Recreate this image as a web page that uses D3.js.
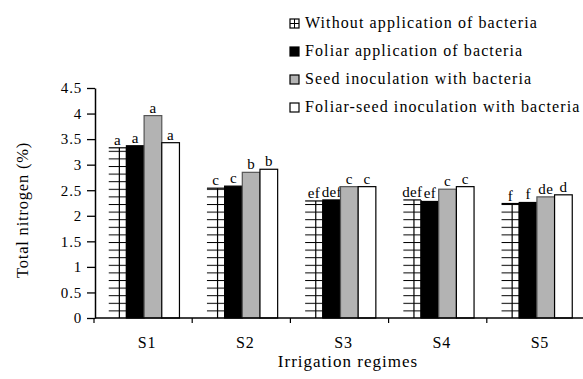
<!DOCTYPE html>
<html>
<head>
<meta charset="utf-8">
<script src="https://cdn.jsdelivr.net/npm/d3@7"></script>
<style>
  body { margin: 0; background: #fff; }
  svg text { font-family: "Liberation Serif", "Times New Roman", serif !important; fill: #000; letter-spacing: 0.8px; }
</style>
</head>
<body>
<svg id="chart" width="583" height="379"></svg>
<script>
// Data
var regimes = ["S1", "S2", "S3", "S4", "S5"];
var treatments = [
    "Without application of bacteria",
    "Foliar application of bacteria",
    "Seed inoculation with bacteria",
    "Foliar-seed inoculation with bacteria"
];
var withoutVals = [3.33, 2.54, 2.29, 2.31, 2.24];
var foliarVals = [3.37, 2.58, 2.31, 2.28, 2.26];
var seedVals = [3.96, 2.85, 2.57, 2.52, 2.37];
var foliarSeedVals = [3.43, 2.91, 2.57, 2.57, 2.41];
var withoutLetters = ["a", "c", "ef", "def", "f"];
var foliarLetters = ["a", "c", "def", "ef", "f"];
var seedLetters = ["a", "b", "c", "c", "de"];
var foliarSeedLetters = ["a", "b", "c", "c", "d"];
var yTicks = [0, 0.5, 1, 1.5, 2, 2.5, 3, 3.5, 4, 4.5];

var series = [withoutVals, foliarVals, seedVals, foliarSeedVals];
var letters = [withoutLetters, foliarLetters, seedLetters, foliarSeedLetters];

var svg = d3.select("#chart");

// Scales
var x0 = d3.scaleBand()
    .domain(regimes)
    .range([95, 586])
    .paddingInner(0)
    .paddingOuter(0);

var x1 = d3.scaleBand()
    .domain(d3.range(treatments.length))
    .range([0, x0.bandwidth() * 0.72]);

var groupOffset = (x0.bandwidth() - x1.range()[1]) / 2;

var y = d3.scaleLinear()
    .domain([0, 4.5])
    .range([318, 88]);

// Patterns and styles
var defs = svg.append("defs");
var hatch = defs.append("pattern")
    .attr("id", "hatch")
    .attr("patternUnits", "userSpaceOnUse")
    .attr("width", 10)
    .attr("height", 7.6)
    .attr("y", y(0));
hatch.append("rect").attr("width", 10).attr("height", 7.6).attr("fill", "#fff");
hatch.append("line")
    .attr("x1", 0).attr("x2", 10)
    .attr("y1", 0.5).attr("y2", 0.5)
    .attr("stroke", "#000").attr("stroke-width", 1);

var fills = ["url(#hatch)", "#000", "#b3b3b3", "#fff"];
var strokes = ["none", "#000", "#555", "#000"];

// Bars
var rows = [];
regimes.forEach(function (r, i) {
    series.forEach(function (s, j) {
        rows.push({ regime: r, t: j, value: s[i], letter: letters[j][i] });
    });
});

var bars = svg.append("g")
    .selectAll("g")
    .data(rows)
    .enter()
    .append("g")
    .attr("transform", function (d) {
        return "translate(" + (x0(d.regime) + groupOffset + x1(d.t)) + ",0)";
    });

bars.append("rect")
    .attr("x", 0)
    .attr("y", function (d) { return y(d.value); })
    .attr("width", x1.bandwidth())
    .attr("height", function (d) { return y(0) - y(d.value); })
    .attr("fill", function (d) { return fills[d.t]; })
    .attr("stroke", function (d) { return strokes[d.t]; })
    .attr("stroke-width", 1.2);

// vertical lines of the hatched bars
bars.filter(function (d) { return d.t === 0; })
    .each(function (d) {
        var g = d3.select(this);
        [0.6, 1].forEach(function (f) {
            g.append("line")
                .attr("x1", x1.bandwidth() * f).attr("x2", x1.bandwidth() * f)
                .attr("y1", y(d.value)).attr("y2", y(0))
                .attr("stroke", "#000").attr("stroke-width", 1.2);
        });
        g.append("line")
            .attr("x1", 0).attr("x2", x1.bandwidth())
            .attr("y1", y(d.value)).attr("y2", y(d.value))
            .attr("stroke", "#000").attr("stroke-width", 1.2);
    });

// letters above bars
bars.append("text")
    .attr("x", x1.bandwidth() / 2)
    .attr("y", function (d) { return y(d.value) - 3; })
    .attr("text-anchor", "middle")
    .style("font-size", "15px")
    .style("letter-spacing", "0.3px")
    .text(function (d) { return d.letter; });

// Y axis
var yAxis = svg.append("g")
    .attr("transform", "translate(95,0)")
    .call(d3.axisLeft(y).tickValues(yTicks).tickSize(8).tickSizeOuter(0)
        .tickFormat(function (d) { return d; }));
yAxis.select(".domain").attr("stroke-width", 1.5);
yAxis.selectAll(".tick line").attr("stroke-width", 1.3);
yAxis.selectAll("text")
    .attr("x", -13)
    .style("font-size", "15px");

// X axis
var xAxisLine = svg.append("g");
xAxisLine.append("line")
    .attr("x1", 95).attr("x2", 583)
    .attr("y1", y(0)).attr("y2", y(0))
    .attr("stroke", "#000").attr("stroke-width", 1.5);
xAxisLine.selectAll(".xt")
    .data(regimes)
    .enter()
    .append("line")
    .attr("x1", function (d) { return x0(d) - 1; })
    .attr("x2", function (d) { return x0(d) - 1; })
    .attr("y1", y(0)).attr("y2", y(0) + 5)
    .attr("stroke", "#000").attr("stroke-width", 1.2);
xAxisLine.selectAll(".xl")
    .data(regimes)
    .enter()
    .append("text")
    .attr("x", function (d) { return x0(d) + x0.bandwidth() / 2 + 3; })
    .attr("y", 348)
    .attr("text-anchor", "middle")
    .style("font-size", "16px")
    .text(function (d) { return d; });

// Axis titles
svg.append("text")
    .attr("transform", "translate(28,210) rotate(-90)")
    .attr("text-anchor", "middle")
    .style("font-size", "16.5px")
    .text("Total nitrogen (%)");

svg.append("text")
    .attr("x", 348)
    .attr("y", 367)
    .attr("text-anchor", "middle")
    .style("font-size", "17px")
    .style("letter-spacing", "1px")
    .text("Irrigation regimes");

// Legend
var legend = svg.append("g")
    .selectAll("g")
    .data(treatments)
    .enter()
    .append("g")
    .attr("transform", function (d, i) { return "translate(290," + (19 + i * 28) + ")"; });

legend.append("rect")
    .attr("width", 9)
    .attr("height", 9)
    .attr("fill", function (d, i) { return i === 0 ? "#fff" : fills[i]; })
    .attr("stroke", "#000")
    .attr("stroke-width", 1.2);

legend.filter(function (d, i) { return i === 0; })
    .each(function () {
        var g = d3.select(this);
        g.append("line").attr("x1", 0).attr("x2", 9).attr("y1", 4.5).attr("y2", 4.5)
            .attr("stroke", "#000");
        g.append("line").attr("x1", 4.5).attr("x2", 4.5).attr("y1", 0).attr("y2", 9)
            .attr("stroke", "#000");
    });

legend.append("text")
    .attr("x", 15)
    .attr("y", 9)
    .style("font-size", "16px")
    .style("letter-spacing", "1.1px")
    .text(function (d) { return d; });
</script>
</body>
</html>
